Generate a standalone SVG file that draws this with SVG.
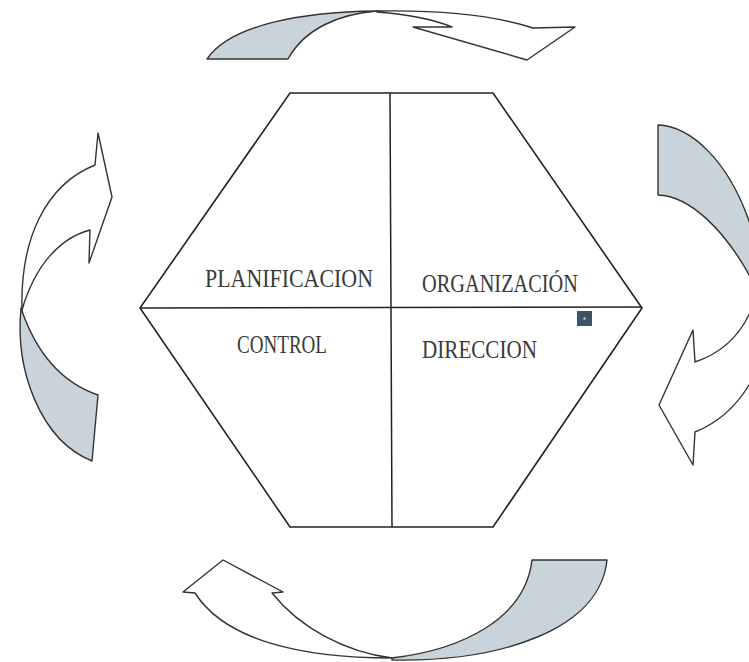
<svg xmlns="http://www.w3.org/2000/svg" width="749" height="662" viewBox="0 0 749 662">
<style>
.hex{fill:#fff;stroke:#222;stroke-width:1.6}
.div{stroke:#222;stroke-width:1.5;fill:none}
.sh{fill:#c8d3da;stroke:#333;stroke-width:1.4;stroke-linejoin:round}
.wh{fill:#fff;stroke:#333;stroke-width:1.4;stroke-linejoin:round}
.lbl{font-family:"Liberation Serif","DejaVu Serif",serif;font-size:25px;fill:#3a3a3a}
</style>
<rect width="749" height="662" fill="#fff"/>
<g id="hexagon">
<polygon class="hex" points="290,93 493,93 642,308 493,527 290,527 140,308"/>
<line class="div" x1="390" y1="93" x2="392" y2="527"/>
<line class="div" x1="140" y1="308" x2="642" y2="307"/>
</g>
<g id="planificacion"><text class="lbl" x="205" y="287" textLength="168" lengthAdjust="spacingAndGlyphs">PLANIFICACION</text></g>
<g id="organizacion"><text class="lbl" x="422" y="292" textLength="156" lengthAdjust="spacingAndGlyphs">ORGANIZACIÓN</text></g>
<g id="control"><text class="lbl" x="237" y="353" textLength="90" lengthAdjust="spacingAndGlyphs">CONTROL</text></g>
<g id="direccion"><text class="lbl" x="422" y="358" textLength="115" lengthAdjust="spacingAndGlyphs">DIRECCION</text></g>
<g id="marker-square">
<rect x="577" y="311" width="15" height="15" fill="#3f5366"/>
<rect x="583.5" y="317.5" width="2" height="2" fill="#dfe6ec"/>
</g>
<g id="connectors">
<g id="arrow-top">
<path class="sh" d="M207,59 C230,25 300,12 377,11 C340,14 305,28 288,59 Z"/>
<path class="wh" d="M377,11 C430,10 490,14 533,28 L575,27 L527,60 L413,27 L452,27 C430,18 405,14 377,12 Z"/>
</g>
<g id="arrow-right">
<path class="sh" d="M658,125 C690,126 730,160 752,230 L770,300 L752,280 C725,230 690,196 658,195 Z"/>
<path class="wh" d="M755,300 C745,330 725,352 695,362 L693,330 L659,405 L693,465 L695,432 C725,420 748,395 762,358 Z"/>
</g>
<g id="arrow-bottom">
<path class="sh" d="M392,658 C460,650 525,620 532,560 L607,560 C600,630 500,662 392,660 Z"/>
<path class="wh" d="M195,593 L183,592 L223,560 L283,592 L272,593 C300,628 345,652 392,658 C300,658 225,640 195,593 Z"/>
</g>
<g id="arrow-left">
<path class="sh" d="M21,308 C15,370 40,440 92,461 L98,395 C60,382 35,350 21,308 Z"/>
<path class="wh" d="M22,310 C20,240 45,185 95,165 L98,133 L112,197 L89,263 L90,230 C60,238 35,265 22,310 Z"/>
</g>
</g>
</svg>
